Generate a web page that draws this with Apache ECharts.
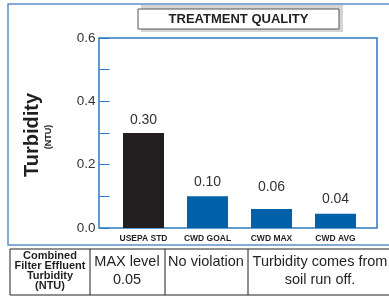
<!DOCTYPE html>
<html>
<head>
<meta charset="utf-8">
<script src="https://cdn.jsdelivr.net/npm/echarts@6/dist/echarts.min.js"></script>
<style>
  html, body { margin: 0; padding: 0; background: #fff; }
  #chart { width: 389px; height: 298px; }
</style>
</head>
<body>
<div id="chart"></div>
<script>
// data
var categories = ['USEPA STD', 'CWD GOAL', 'CWD MAX', 'CWD AVG'];
var values = [0.30, 0.10, 0.06, 0.045];
var valueLabels = ['0.30', '0.10', '0.06', '0.04'];
var barColors = ['#231f20', '#0061ab', '#0061ab', '#0061ab'];
var labelGaps = [6, 7, 15, 8];

// table under the chart
var tableCells = [
    'Combined\nFilter Effluent\nTurbidity\n(NTU)',
    'MAX level\n0.05',
    'No violation',
    'Turbidity comes from\nsoil run off.'
];

var font = '"Liberation Sans", Arial, sans-serif';
var chart = echarts.init(document.getElementById('chart'));

var barData = [];
for (var i = 0; i < values.length; i++) {
    barData.push({
        value: values[i],
        itemStyle: { color: barColors[i] },
        label: { formatter: valueLabels[i], distance: labelGaps[i] }
    });
}

var option = {
    animation: false,
    grid: { left: 111.5, right: 21.5, top: 38, bottom: 70 },
    xAxis: {
        type: 'category',
        data: categories,
        axisLine: { show: false },
        axisTick: { show: false },
        axisLabel: {
            color: '#231f20', fontSize: 8.5, fontWeight: 'bold',
            fontFamily: font, margin: 6
        }
    },
    yAxis: {
        type: 'value',
        min: 0, max: 0.6, interval: 0.1,
        offset: 12,
        axisLine: { show: false },
        splitLine: { show: false },
        axisTick: { show: true, inside: true, length: 10, lineStyle: { color: '#2b79c2', width: 1 } },
        axisLabel: {
            color: '#333', fontSize: 13.5, fontFamily: font, margin: 4,
            formatter: function (v) {
                return Math.round(v * 10) % 2 === 0 ? v.toFixed(1) : '';
            }
        }
    },
    series: [{
        type: 'bar',
        data: barData,
        barWidth: 41,
        label: {
            show: true, position: 'top',
            color: '#333', fontSize: 14, fontFamily: font
        }
    }],
    graphic: [
        // outer frame
        { type: 'rect', z: 0, shape: { x: 8, y: 4, width: 392, height: 241 },
          style: { fill: 'none', stroke: '#5b90c8', lineWidth: 1.5 } },
        // plot frame
        { type: 'rect', z: 0, shape: { x: 99, y: 38, width: 278, height: 190 },
          style: { fill: 'none', stroke: '#2b79c2', lineWidth: 1.5 } },
        // title box with shadow
        { type: 'rect', z: 1, shape: { x: 141, y: 5, width: 202, height: 27 },
          style: { fill: '#d4d4d4' } },
        { type: 'rect', z: 2, shape: { x: 138, y: 9, width: 201, height: 20 },
          style: { fill: '#fff', stroke: '#555', lineWidth: 1 } },
        { type: 'text', z: 3, x: 238.5, y: 19.5,
          style: { text: 'TREATMENT QUALITY', fill: '#231f20', font: 'bold 13px ' + font,
                   textAlign: 'center', textVerticalAlign: 'middle' } },
        // axis title
        { type: 'text', z: 3, x: 32, y: 135, rotation: Math.PI / 2,
          style: { text: 'Turbidity', fill: '#231f20', font: 'bold 20px ' + font,
                   textAlign: 'center', textVerticalAlign: 'middle' } },
        { type: 'text', z: 3, x: 49, y: 137, rotation: Math.PI / 2,
          style: { text: '(NTU)', fill: '#231f20', font: 'bold 9px ' + font,
                   textAlign: 'center', textVerticalAlign: 'middle' } },
        // table
        { type: 'rect', z: 1, shape: { x: 10, y: 249, width: 390, height: 46 },
          style: { fill: 'none', stroke: '#231f20', lineWidth: 1 } },
        { type: 'line', z: 1, shape: { x1: 90, y1: 249, x2: 90, y2: 295 },
          style: { stroke: '#231f20', lineWidth: 1 } },
        { type: 'line', z: 1, shape: { x1: 165, y1: 249, x2: 165, y2: 295 },
          style: { stroke: '#231f20', lineWidth: 1 } },
        { type: 'line', z: 1, shape: { x1: 248, y1: 249, x2: 248, y2: 295 },
          style: { stroke: '#231f20', lineWidth: 1 } },
        { type: 'text', z: 3, x: 50, y: 271,
          style: { text: tableCells[0], fill: '#231f20', font: 'bold 11px ' + font,
                   lineHeight: 10, textAlign: 'center', textVerticalAlign: 'middle' } },
        { type: 'text', z: 3, x: 127, y: 271,
          style: { text: tableCells[1], fill: '#231f20', font: '14.5px ' + font,
                   lineHeight: 18, textAlign: 'center', textVerticalAlign: 'middle' } },
        { type: 'text', z: 3, x: 206, y: 262,
          style: { text: tableCells[2], fill: '#231f20', font: '14.5px ' + font,
                   textAlign: 'center', textVerticalAlign: 'middle' } },
        { type: 'text', z: 3, x: 320, y: 271,
          style: { text: tableCells[3], fill: '#231f20', font: '14.5px ' + font,
                   lineHeight: 18, textAlign: 'center', textVerticalAlign: 'middle' } }
    ]
};

chart.setOption(option);
</script>
</body>
</html>
